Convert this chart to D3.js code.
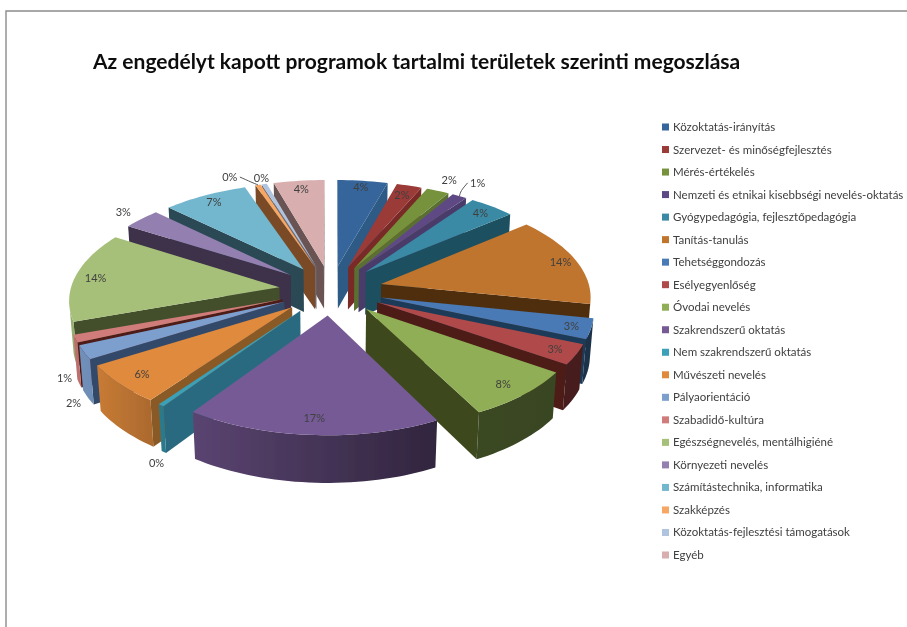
<!DOCTYPE html>
<html>
<head>
<meta charset="utf-8">
<script src="https://cdn.jsdelivr.net/npm/d3@7"></script>
<style>
  body { margin: 0; background: #fff; }
  text { font-family: Lato, "Open Sans", sans-serif; }
</style>
</head>
<body>
<div id="chart"></div>
<script>
// data
var titleText = "Az engedélyt kapott programok tartalmi területek szerinti megoszlása";
var categories = ["Közoktatás-irányítás", "Szervezet- és minőségfejlesztés", "Mérés-értékelés",
  "Nemzeti és etnikai kisebbségi nevelés-oktatás", "Gyógypedagógia, fejlesztőpedagógia", "Tanítás-tanulás",
  "Tehetséggondozás", "Esélyegyenlőség", "Óvodai nevelés", "Szakrendszerű oktatás", "Nem szakrendszerű oktatás",
  "Művészeti nevelés", "Pályaorientáció", "Szabadidő-kultúra", "Egészségnevelés, mentálhigiéné",
  "Környezeti nevelés", "Számítástechnika, informatika", "Szakképzés", "Közoktatás-fejlesztési támogatások", "Egyéb"];
var values = [4.4, 2.2, 2.0, 1.3, 4.0, 14.3, 3.2, 3.2, 7.8, 17.2, 0.4, 6.2, 2.2, 1.2, 14.3, 3.3, 7.45, 0.45, 0.45, 4.45];

// palette
var topColors = ["#35659a", "#9a3a38", "#76923c", "#5f4a85", "#3a8aa5", "#c0752f", "#4a7ab5", "#b04a48", "#8fae54",
  "#765a95", "#3aa0b8", "#e08a3c", "#7c9fce", "#d07b7a", "#a6c07a", "#9480b0", "#73b7cf", "#f5a763", "#b0c4e0", "#d8aeae"];
var wallColors = ["#2e5a86", "#7a2a28", "#5a7030", "#4a3a6a", "#1e4f5e", "#4f2f10", "#1c3a58", "#4d1a18", "#3d4a1e",
  "#4a3560", "#2c6b80", "#8a5a25", "#33496b", "#4d1a18", "#434f2a", "#3c3048", "#2a4a55", "#7a4a28", "#6f6a70", "#6a5353"];

// label placement along each slice: radius fraction, then a small nudge in pixels
var labelRadius = [0.92, 0.87, 1.15, 1.2, 0.9, 0.92, 0.91, 0.9, 0.88, 0.87, 1.03, 0.88, 1.05, 1.05, 0.9, 1.13, 0.9, 1.08, 1.06, 0.9];
var labelDx = [0, 0, 0, 0, 0, 0, 0, 0, 0, 0, 0, 0, 0, 0, 0, 0, 0, -24, 0, 0];
var labelDy = [0, 0, 0, 0, 0, 0, 0, 0, 0, 0, 55, 0, 48, 37, 0, 0, 0, -2, -2, 0];
var leaders = [3, 17];

var width = 907, height = 627;
var cx = 331, cy = 290, R = 209, explode = 52, H = 50, D = 1660;
var sinT = 0.48, cosT = Math.sqrt(1 - sinT * sinT);

var svg = d3.select("#chart").append("svg")
  .attr("width", width)
  .attr("height", height);
var defs = svg.append("defs");
defs.append("filter").attr("id", "soft")
  .attr("filterUnits", "userSpaceOnUse")
  .attr("x", 0).attr("y", 0).attr("width", width).attr("height", height)
  .append("feGaussianBlur").attr("stdDeviation", 0.5);

// the source picture is a slightly soft screenshot
var root = svg.append("g").attr("filter", "url(#soft)");

// frame
root.append("path")
  .attr("d", d3.line()([[6, 627], [6, 11], [907, 11]]))
  .attr("fill", "none")
  .attr("stroke", "#8c8c8c")
  .attr("stroke-width", 1.4);

root.append("text")
  .attr("x", 93).attr("y", 69)
  .attr("font-size", 21)
  .attr("font-weight", 700)
  .attr("fill", "#111")
  .text(titleText);

var pie = d3.pie().sort(null);
var slices = pie(values);
var color = d3.scaleOrdinal().domain(categories).range(topColors);
var wall = d3.scaleOrdinal().domain(categories).range(wallColors);

// point on a slice -> screen
function project(d, a, r, z) {
  var mid = (d.startAngle + d.endAngle) / 2;
  var px = Math.sin(mid) * explode + Math.sin(a) * r,
      py = -Math.cos(mid) * explode - Math.cos(a) * r;
  var k = D / (D - py * cosT - z * sinT);
  return [cx + k * px, cy + k * (py * sinT - z * cosT)];
}

// light comes from the left, so the rim gets darker going east
var rimShade = d3.scaleLinear().domain([150, 240]).range([0.4, 0.9]).clamp(true);
function rimColor(d, a) {
  var c = d3.rgb(color(categories[d.index]));
  var f = rimShade(a * 180 / Math.PI);
  return d3.rgb(c.r * f, c.g * f, c.b * f).formatHex();
}

var line = d3.line();
var pieG = root.append("g");
var order = slices.slice().sort(function(a, b) {
  return Math.cos((b.startAngle + b.endAngle) / 2) - Math.cos((a.startAngle + a.endAngle) / 2);
});

order.forEach(function(d) {
  var g = pieG.append("g");
  var name = categories[d.index];
  var tipTop = project(d, 0, 0, 0), tipBot = project(d, 0, 0, -H);
  var steps = Math.max(2, Math.ceil((d.endAngle - d.startAngle) / 0.03));
  var angles = d3.range(steps + 1).map(function(i) { return d.startAngle + (d.endAngle - d.startAngle) * i / steps; });
  var topArc = angles.map(function(a) { return project(d, a, R, 0); });

  // radial walls, only when they face the camera
  var wall0 = [tipTop, topArc[0], project(d, d.startAngle, R, -H), tipBot];
  var wall1 = [tipTop, topArc[steps], project(d, d.endAngle, R, -H), tipBot];
  if (d3.polygonArea(wall0) > 0) g.append("path").attr("d", line(wall0) + "Z").attr("fill", wall(name));
  if (d3.polygonArea(wall1) < 0) g.append("path").attr("d", line(wall1) + "Z").attr("fill", wall(name));

  // outer rim, visible stretch only
  var vis = angles.filter(function(a, i) {
    var b = i < steps ? angles[i + 1] : a, a0 = i < steps ? a : angles[i - 1];
    return d3.polygonArea([project(d, a0, R, 0), project(d, b, R, 0), project(d, b, R, -H), project(d, a0, R, -H)]) > 0;
  });
  if (vis.length > 1) {
    var upper = vis.map(function(a) { return project(d, a, R, 0); });
    var lower = vis.map(function(a) { return project(d, a, R, -H); }).reverse();
    var first = upper[0], last = upper[upper.length - 1];
    var grad = defs.append("linearGradient")
      .attr("id", "rim" + d.index)
      .attr("gradientUnits", "userSpaceOnUse")
      .attr("x1", first[0]).attr("y1", 0).attr("x2", last[0]).attr("y2", 0);
    grad.append("stop").attr("offset", 0).attr("stop-color", rimColor(d, vis[0]));
    grad.append("stop").attr("offset", 1).attr("stop-color", rimColor(d, vis[vis.length - 1]));
    g.append("path").attr("d", line(upper.concat(lower)) + "Z").attr("fill", "url(#rim" + d.index + ")");
  }

  // top face
  g.append("path")
    .attr("d", line([tipTop].concat(topArc)) + "Z")
    .attr("fill", color(name));
});

// percent labels
var pct = d3.format(".0%");
function labelPoint(d) {
  var mid = (d.startAngle + d.endAngle) / 2;
  var p = project(d, mid, R * labelRadius[d.index], 0);
  return [p[0] + labelDx[d.index], p[1] + labelDy[d.index]];
}
root.selectAll("text.pct")
  .data(slices)
  .enter().append("text")
  .attr("class", "pct")
  .attr("x", function(d) { return labelPoint(d)[0]; })
  .attr("y", function(d) { return labelPoint(d)[1] + 4; })
  .attr("text-anchor", "middle")
  .attr("font-size", 11)
  .attr("fill", "#404040")
  .text(function(d) { return pct(Math.round(values[d.index]) / 100); });

// leader lines for the two crowded labels, curved and stopping beside the text
var curved = d3.line().curve(d3.curveNatural);
leaders.forEach(function(i) {
  var d = slices[i], mid = (d.startAngle + d.endAngle) / 2;
  var p0 = project(d, mid, R, 0), p1 = labelPoint(d);
  var side = p1[0] > p0[0] ? -10 : 10;
  var end = [p1[0] + side, p1[1]];
  root.append("path")
    .attr("d", curved([p0, [(p0[0] + end[0]) / 2 + side * 0.2, (p0[1] + end[1]) / 2 + 1], end]))
    .attr("fill", "none")
    .attr("stroke", "#555")
    .attr("stroke-width", 1);
});

// legend
var legendY = d3.scalePoint().domain(categories).range([127, 555]);
var legend = root.selectAll("g.legend")
  .data(categories)
  .enter().append("g")
  .attr("class", "legend")
  .attr("transform", function(d) { return "translate(662," + legendY(d) + ")"; });
legend.append("rect")
  .attr("x", 0).attr("y", -3.5)
  .attr("width", 7).attr("height", 7)
  .attr("fill", function(d) { return color(d); });
legend.append("text")
  .attr("x", 11).attr("y", 4)
  .attr("font-size", 11.5)
  .attr("fill", "#404040")
  .text(function(d) { return d; });
</script>
</body>
</html>
